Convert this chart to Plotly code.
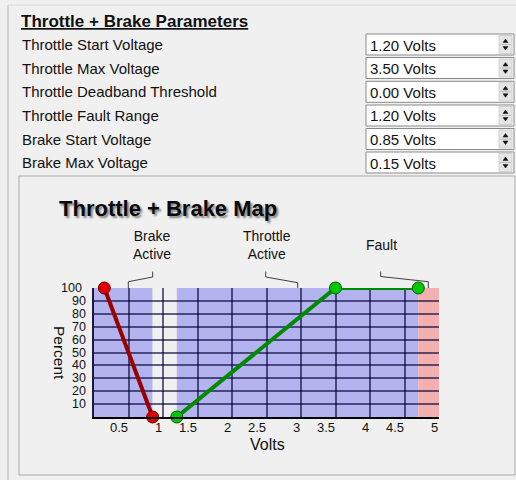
import plotly.graph_objects as go

# ---------------- data ----------------
param_labels = ["Throttle Start Voltage", "Throttle Max Voltage", "Throttle Deadband Threshold",
                "Throttle Fault Range", "Brake Start Voltage", "Brake Max Voltage"]
param_values = [1.20, 3.50, 0.00, 1.20, 0.85, 0.15]

brake_x = [0.15, 0.85]
brake_y = [100, 0]
throttle_x = [1.2, 3.5, 4.7]
throttle_y = [0, 100, 100]

region_edges = [0.0, 0.85, 1.2, 4.7, 5.0]
region_colors = ["#b3b3ef", "#f0f0f0", "#b3b3ef", "#f2b0b0"]

x_ticks = [0.5, 1, 1.5, 2, 2.5, 3, 3.5, 4, 4.5, 5]
x_tick_labels = ["0.5", "1", "1.5", "2", "2.5", "3", "3.5", "4", "4.5", "5"]
y_ticks = [100, 90, 80, 70, 60, 50, 40, 30, 20, 10]
y_tick_labels = ["100", "90", "80", "70", "60", "50", "40", "30", "20", "10"]

zone_labels = ["Brake<br>Active", "Throttle<br>Active", "Fault"]

# ---------------- geometry helpers (pixel -> paper) ----------------
W, H = 516, 480
L, R, T, B = 94, 439, 288, 417


def px(x):
    return (x - L) / (R - L)


def py(y):
    return (B - y) / (B - T)


FONT = "Liberation Sans, Arial, sans-serif"
shapes = []
annotations = []

# outer frame
shapes.append(dict(type="line", xref="paper", yref="paper", x0=px(8), x1=px(8), y0=py(5), y1=py(480),
                   line=dict(color="#b4b4b4", width=1), layer="above"))
shapes.append(dict(type="line", xref="paper", yref="paper", x0=px(8), x1=px(516), y0=py(5), y1=py(5),
                   line=dict(color="#d8d8d8", width=1), layer="above"))

# header
annotations.append(dict(xref="paper", yref="paper", x=px(19), y=py(21), xanchor="left", yanchor="middle",
                        text="<b>Throttle + Brake Parameters</b>", showarrow=False,
                        font=dict(family=FONT, size=17, color="#111111", lineposition="under")))

# parameter rows
row_y = [44.5, 68, 91.8, 115.5, 139, 162.5]
for lab, val, yc in zip(param_labels, param_values, row_y):
    annotations.append(dict(xref="paper", yref="paper", x=px(20), y=py(yc), xanchor="left", yanchor="middle",
                            text=lab, showarrow=False, font=dict(family=FONT, size=15, color="#111111")))
    shapes.append(dict(type="rect", xref="paper", yref="paper", x0=px(366), x1=px(514),
                       y0=py(yc - 10.5), y1=py(yc + 10.5), fillcolor="white",
                       line=dict(color="#8a8a8a", width=1), layer="above"))
    shapes.append(dict(type="rect", xref="paper", yref="paper", x0=px(499), x1=px(512),
                       y0=py(yc - 9), y1=py(yc + 9), fillcolor="#e6e6e6",
                       line=dict(color="#d0d0d0", width=1), layer="above"))
    shapes.append(dict(type="line", xref="paper", yref="paper", x0=px(500), x1=px(511),
                       y0=py(yc), y1=py(yc), line=dict(color="#bcbcbc", width=1), layer="above"))
    up = f"M {px(503)} {py(yc - 2)} L {px(508)} {py(yc - 2)} L {px(505.5)} {py(yc - 5.5)} Z"
    dn = f"M {px(503)} {py(yc + 2)} L {px(508)} {py(yc + 2)} L {px(505.5)} {py(yc + 5.5)} Z"
    for p in (up, dn):
        shapes.append(dict(type="path", xref="paper", yref="paper", path=p, fillcolor="#111111",
                           line=dict(color="#111111", width=0.5), layer="above"))
    annotations.append(dict(xref="paper", yref="paper", x=px(368), y=py(yc + 0.5), xanchor="left",
                            yanchor="middle", text=f"{val:.2f} Volts", showarrow=False,
                            font=dict(family=FONT, size=15, color="#111111")))

# chart panel
shapes.append(dict(type="rect", xref="paper", yref="paper", x0=px(19), x1=px(515), y0=py(176), y1=py(475),
                   fillcolor="rgba(0,0,0,0)", line=dict(color="#a8a8a8", width=1), layer="below"))

# chart title
annotations.append(dict(xref="paper", yref="paper", x=px(57), y=py(208), xanchor="left", yanchor="middle",
                        text="<b>Throttle + Brake Map</b>", showarrow=False,
                        font=dict(family=FONT, size=22, color="#0a0a0a",
                                  shadow="2px 2px 2px rgba(0,0,0,0.45)")))

# zone labels and brackets
zone_cx = [152, 266.5, 381.5]
zone_cy = [245, 245, 245]
for t, cx, cy in zip(zone_labels, zone_cx, zone_cy):
    annotations.append(dict(xref="paper", yref="paper", x=px(cx), y=py(cy), xanchor="center",
                            yanchor="middle", text=t, showarrow=False,
                            font=dict(family=FONT, size=14, color="#111111")))
brackets = [
    [(152.7, 271.5), (152.7, 277), (128.3, 281.7), (128.3, 288)],
    [(265.7, 271.5), (265.7, 277), (297.7, 282.7), (297.7, 288)],
    [(380.7, 271.5), (380.7, 276.5), (428.3, 281.7), (428.3, 288)],
]
for br in brackets:
    path = "M " + " L ".join(f"{px(a)} {py(b)}" for a, b in br)
    shapes.append(dict(type="path", xref="paper", yref="paper", path=path,
                       line=dict(color="#404040", width=1), layer="above"))

# background regions
for i, c in enumerate(region_colors):
    shapes.append(dict(type="rect", xref="x", yref="y", x0=region_edges[i], x1=region_edges[i + 1],
                       y0=0, y1=100, fillcolor=c, line=dict(width=0), layer="below"))

# tick labels
for v, t in zip(x_ticks, x_tick_labels):
    annotations.append(dict(xref="x", yref="paper", x=v, y=0, xanchor="right", yanchor="top",
                            yshift=-1, xshift=1, text=t, showarrow=False,
                            font=dict(family=FONT, size=13, color="#111111")))
for v, t in zip(y_ticks, y_tick_labels):
    annotations.append(dict(xref="paper", yref="y", x=0, y=v, xanchor="right", yanchor="middle",
                            xshift=-11 if v == 100 else -7, text=t, showarrow=False, borderpad=0,
                            font=dict(family=FONT, size=12.5, color="#111111")))

# axis titles
annotations.append(dict(xref="paper", yref="paper", x=px(267), y=py(444), xanchor="center", yanchor="middle",
                        text="Volts", showarrow=False, font=dict(family=FONT, size=16, color="#111111")))
annotations.append(dict(xref="paper", yref="paper", x=px(60), y=py(353), xanchor="center", yanchor="middle",
                        text="Percent", textangle=90, showarrow=False, borderpad=0,
                        font=dict(family=FONT, size=15.5, color="#111111")))

fig = go.Figure()
fig.add_trace(go.Scatter(x=brake_x, y=brake_y, mode="lines+markers",
                         line=dict(color="#990000", width=4),
                         marker=dict(size=12, color="#e00000", line=dict(color="#700000", width=1)),
                         cliponaxis=False, hoverinfo="skip"))
fig.add_trace(go.Scatter(x=throttle_x, y=throttle_y, mode="lines+markers",
                         line=dict(color="#008a00", width=4),
                         marker=dict(size=12, color="#00c800", line=dict(color="#005a00", width=1)),
                         cliponaxis=False, hoverinfo="skip"))

fig.update_layout(
    width=W, height=H,
    margin=dict(l=L, r=W - R, t=T, b=H - B, pad=0),
    paper_bgcolor="#f0f0f0", plot_bgcolor="#f0f0f0",
    showlegend=False,
    shapes=shapes, annotations=annotations,
    xaxis=dict(range=[0, 5], tickvals=[0] + x_ticks, showticklabels=False, ticks="",
               showgrid=True, gridcolor="rgba(0,0,50,0.6)", gridwidth=1.5, zeroline=False,
               showline=True, linecolor="#000000", linewidth=2, fixedrange=True),
    yaxis=dict(range=[0, 100], tickvals=[0] + y_ticks, showticklabels=False, ticks="",
               showgrid=True, gridcolor="rgba(0,0,50,0.6)", gridwidth=1.5, zeroline=False,
               showline=True, linecolor="#1a1a3a", linewidth=2, fixedrange=True),
)

fig.write_html("out.html", config={"displayModeBar": False},
               post_script="document.body.style.margin='0';document.body.style.background='#f0f0f0';")
